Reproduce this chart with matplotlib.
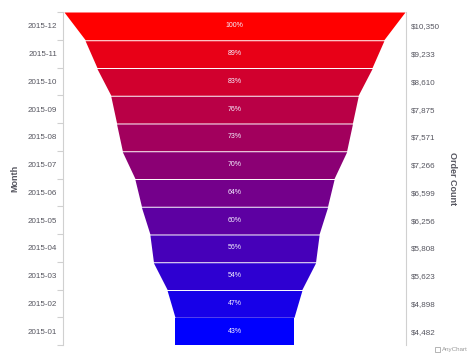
import numpy as np
import matplotlib
matplotlib.use('Agg')
import matplotlib.pyplot as plt
from matplotlib.patches import Rectangle

# data, bottom to top
months = ['2015-01', '2015-02', '2015-03', '2015-04', '2015-05', '2015-06',
          '2015-07', '2015-08', '2015-09', '2015-10', '2015-11', '2015-12']
order_count = [4482, 4898, 5623, 5808, 6256, 6599, 7266, 7571, 7875, 8610, 9233, 10350]
value_labels = ['$4,482', '$4,898', '$5,623', '$5,808', '$6,256', '$6,599',
                '$7,266', '$7,571', '$7,875', '$8,610', '$9,233', '$10,350']

plt.rcParams['font.family'] = ['Liberation Sans', 'DejaVu Sans']
label_color = '#55555f'
line_color = '#d0d0d0'

# bar width scale does not start at zero (neck)
base = 1336
n = len(months)
vmax = max(order_count)

fig = plt.figure(figsize=(4.74, 3.55), dpi=100)
ax = fig.add_axes([63 / 474, 10 / 355, 343 / 474, 333 / 355])

gap = 0.035
for k in range(n):
    top_w = (order_count[k] - base) / 2
    bot_w = (order_count[k - 1] - base) / 2 if k > 0 else top_w
    frac = (n - 1 - k) / (n - 1)
    color = (1 - frac, 0, frac)
    y_top = k + 1 - (gap if k < n - 1 else 0)
    ax.fill_betweenx([k, y_top], [-bot_w, -top_w], [bot_w, top_w],
                     color=color, lw=0)
    pct = round(order_count[k] / vmax * 100)
    ax.text(0, k + 0.5, '%d%%' % pct, ha='center', va='center',
            color='#f4f0ff', fontsize=5)

half = (vmax - base) / 2 * 343 / 341
ax.set_xlim(-half, half)
ax.set_ylim(0, n)
ax.set_xticks([])

for s in ['top', 'bottom']:
    ax.spines[s].set_visible(False)
for s in ['left', 'right']:
    ax.spines[s].set_color(line_color)
    ax.spines[s].set_linewidth(0.8)

ax.set_yticks(range(n + 1))
ax.set_yticklabels([])
ax.tick_params(axis='y', which='major', length=4, width=0.8, color=line_color,
               left=True, right=True, direction='out')
ax.set_yticks(np.arange(n) + 0.5, minor=True)
ax.set_yticklabels(months, minor=True)
ax.tick_params(axis='y', which='minor', length=0, pad=4.3, labelsize=5.8,
               labelcolor=label_color)

ax2 = ax.twinx()
ax2.set_ylim(0, n)
for s in ['top', 'bottom', 'left', 'right']:
    ax2.spines[s].set_visible(False)
ax2.set_yticks([])
ax2.set_yticks(np.arange(n) + 0.5, minor=True)
ax2.set_yticklabels(value_labels, minor=True)
ax2.tick_params(axis='y', which='minor', length=0, pad=3.6, labelsize=5.8,
                labelcolor=label_color)

fig.text(15 / 474, 1 - 178 / 355, 'Month', rotation=90, ha='center', va='center',
         fontsize=6.5, fontweight='bold', color=label_color)
fig.text(453 / 474, 1 - 179 / 355, 'Order Count', rotation=-90, ha='center',
         va='center', fontsize=6.5, fontweight='bold', color=label_color)

# credits
fig.patches.append(Rectangle((435 / 474, 1 - 352 / 355), 5 / 474, 5 / 355,
                             transform=fig.transFigure, facecolor='none',
                             edgecolor='#a8a8a8', lw=0.6))
fig.text(442 / 474, 1 - 349 / 355, 'AnyChart', ha='left', va='center',
         fontsize=4.5, color='#9a9a9a')

fig.savefig('out.png', dpi=100)
